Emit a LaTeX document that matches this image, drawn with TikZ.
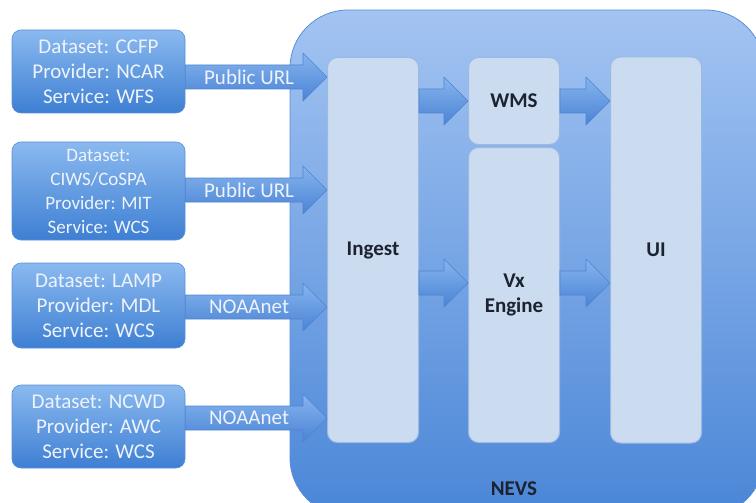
\documentclass[tikz,border=0pt]{standalone}
\usepackage{fontspec}
\setmainfont{Carlito}
\usetikzlibrary{calc}

\definecolor{srctop}{HTML}{8AB9EF}
\definecolor{srcbot}{HTML}{3E7FD3}
\definecolor{srcedge}{HTML}{5A8FD8}
\definecolor{srctext}{HTML}{EEF3FB}
\definecolor{nevstop}{HTML}{A3C4F2}
\definecolor{nevsbot}{HTML}{4A86D7}
\definecolor{partfill}{HTML}{CBDCF1}
\definecolor{partedge}{HTML}{9DB9E2}
\definecolor{darktext}{HTML}{1C2230}
\definecolor{arrtop}{HTML}{86B4EE}
\definecolor{arrbot}{HTML}{4A84D5}
\definecolor{arredge}{HTML}{4F84D0}

\tikzset{
  srcbox/.style={rounded corners=9pt, top color=srctop, bottom color=srcbot,
    draw=srcedge, line width=0.6pt, text=srctext, align=center,
    minimum width=173pt, inner sep=2pt, font=\fontsize{21}{25}\selectfont},
  partbox/.style={rounded corners=10pt, fill=partfill, draw=partedge,
    line width=1pt, minimum width=91pt, align=center, text=darktext,
    font=\bfseries\fontsize{21}{25}\selectfont},
  link/.style={top color=arrtop, bottom color=arrbot, draw=arredge,
    line width=0.6pt, line join=round},
  linklabel/.style={text=srctext, font=\fontsize{21}{25}\selectfont}
}

% block arrow from #1 to #2 (horizontal), shaft 24, head 48 x 24
\newcommand\blockarrow[2]{%
  \path[link] ($(#1)+(0,-12)$) -- ($(#2)+(-24,-12)$) -- ($(#2)+(-24,-24)$)
    -- (#2) -- ($(#2)+(-24,24)$) -- ($(#2)+(-24,12)$) -- ($(#1)+(0,12)$)
    -- cycle;}

\begin{document}
\begin{tikzpicture}[x=1pt, y=-1pt]
    \useasboundingbox (0,0) rectangle (756,503);
    \clip (0,0) rectangle (756,503);

    % ---- the NEVS container ----
    \node[rounded corners=58pt, top color=nevstop, bottom color=nevsbot,
      draw=srcedge, line width=0.8pt, minimum width=474pt,
      minimum height=506pt] (nevs) at (527,263) {};
    \node[font=\bfseries\fontsize{21}{25}\selectfont, text=darktext]
      (nevslabel) at (514,489) {NEVS};

    % ---- parts of NEVS ----
    \node[partbox, minimum height=385pt] (ingest) at (373,250) {Ingest};
    \node[partbox, minimum height=87pt]  (wms)    at (514,101) {WMS};
    \node[partbox, minimum height=295pt] (vx)     at (514,295) {Vx\\Engine};
    \node[partbox, minimum height=386pt] (ui)     at (656,250) {UI};

    % ---- data sources ----
    \node[srcbox, minimum height=83pt] (ccfp) at (98.5,71.5)
      {Dataset: CCFP\\Provider: NCAR\\Service: WFS};
    \node[srcbox, minimum height=98pt, font=\fontsize{19}{24}\selectfont]
      (ciws) at (98.5,191)
      {Dataset:\\CIWS/CoSPA\\Provider: MIT\\Service: WCS};
    \node[srcbox, minimum height=85pt] (lamp) at (98.5,305.5)
      {Dataset: LAMP\\Provider: MDL\\Service: WCS};
    \node[srcbox, minimum height=83pt] (ncwd) at (98.5,426.5)
      {Dataset: NCWD\\Provider: AWC\\Service: WCS};

    % ---- feeds into ingest ----
    \coordinate (f1) at ([yshift=-5.5pt]ccfp.east);
    \coordinate (f2) at ([yshift=1pt]ciws.east);
    \coordinate (f3) at ([yshift=-1.5pt]lamp.east);
    \coordinate (f4) at ([yshift=8.5pt]ncwd.east);
    \coordinate (t1) at (f1 -| ingest.west);
    \coordinate (t2) at (f2 -| ingest.west);
    \coordinate (t3) at (f3 -| ingest.west);
    \coordinate (t4) at (f4 -| ingest.west);
    \blockarrow{f1}{t1}
    \blockarrow{f2}{t2}
    \blockarrow{f3}{t3}
    \blockarrow{f4}{t4}
    \node[linklabel] (url1) at ($(f1)!0.45!(t1)$) {Public URL};
    \node[linklabel] (url2) at ($(f2)!0.45!(t2)$) {Public URL};
    \node[linklabel] (noaa1) at ($(f3)!0.45!(t3)$) {NOAAnet};
    \node[linklabel] (noaa2) at ($(f4)!0.45!(t4)$) {NOAAnet};

    % ---- flow inside NEVS ----
    \coordinate (v1) at ([yshift=12pt]vx.west);
    \coordinate (v2) at ([yshift=12pt]vx.east);
    \coordinate (i1) at (ingest.east |- wms.west);
    \coordinate (i2) at (ingest.east |- v1);
    \coordinate (u1) at (ui.west |- wms.east);
    \coordinate (u2) at (ui.west |- v2);
    \blockarrow{i1}{wms.west}
    \blockarrow{wms.east}{u1}
    \blockarrow{i2}{v1}
    \blockarrow{v2}{u2}
\end{tikzpicture}
\end{document}
